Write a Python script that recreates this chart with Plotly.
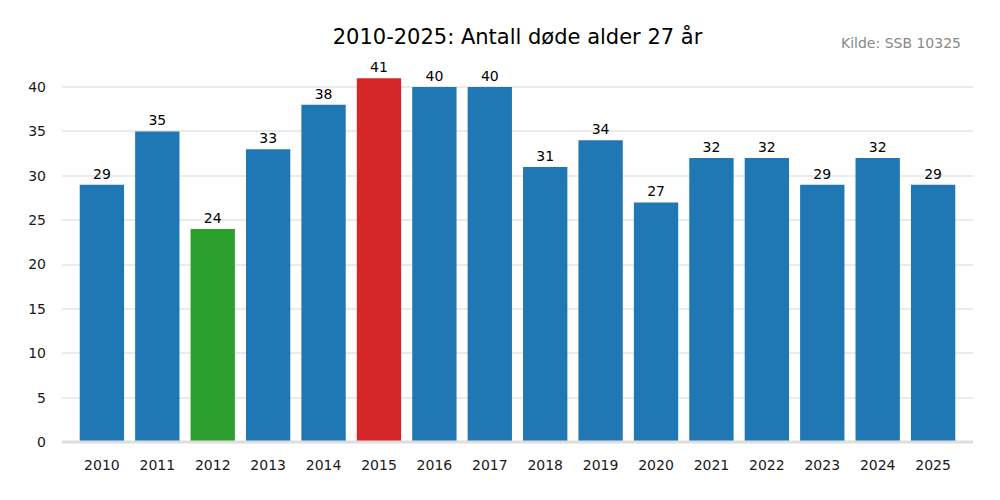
import plotly.graph_objects as go

# Data
years = [str(y) for y in range(2010, 2026)]
deaths = [29, 35, 24, 33, 38, 41, 40, 40, 31, 34, 27, 32, 32, 29, 32, 29]
min_year = "2012"
max_year = "2015"

BLUE = "#1f77b4"
GREEN = "#2ca02c"
RED = "#d62728"

colors = []
for y in years:
    if y == min_year:
        colors.append(GREEN)
    elif y == max_year:
        colors.append(RED)
    else:
        colors.append(BLUE)

fig = go.Figure()
fig.add_trace(go.Bar(
    x=years, y=deaths,
    marker=dict(color=colors, line=dict(width=0)),
    text=[str(v) for v in deaths],
    textposition="outside",
    textfont=dict(size=14, color="#000000"),
    cliponaxis=False,
    width=0.8,
))

fig.update_layout(
    width=1000, height=500,
    margin=dict(l=54, r=35, t=52, b=66),
    paper_bgcolor="white", plot_bgcolor="white",
    font=dict(family="DejaVu Sans", size=14, color="#1a1a1a"),
    title=dict(text="2010-2025: Antall døde alder 27 år", xref="paper", x=0.5,
               xanchor="center", y=0.942, yanchor="middle",
               font=dict(size=21, color="#000000")),
    showlegend=False,
    xaxis=dict(type="category", range=[-0.72, 15.72], showgrid=False,
               showline=False, zeroline=False, ticks="", ticklabelstandoff=13),
    yaxis=dict(range=[0, 43.05], tickmode="array", tickvals=list(range(0, 45, 5)),
               showgrid=True, gridcolor="#ebebeb", gridwidth=2,
               zeroline=False, showline=False, ticks="", ticklabelstandoff=15),
    shapes=[dict(type="line", xref="paper", yref="paper", x0=0, x1=1, y0=0, y1=0,
                 line=dict(color="#dddddd", width=3), layer="above")],
    annotations=[dict(text="Kilde: SSB 10325", xref="paper", yref="paper",
                      x=0.989, y=1.0, xanchor="right", yanchor="middle",
                      yshift=17, showarrow=False,
                      font=dict(size=14, color="#888888"))],
)

fig.write_html("out.html")
